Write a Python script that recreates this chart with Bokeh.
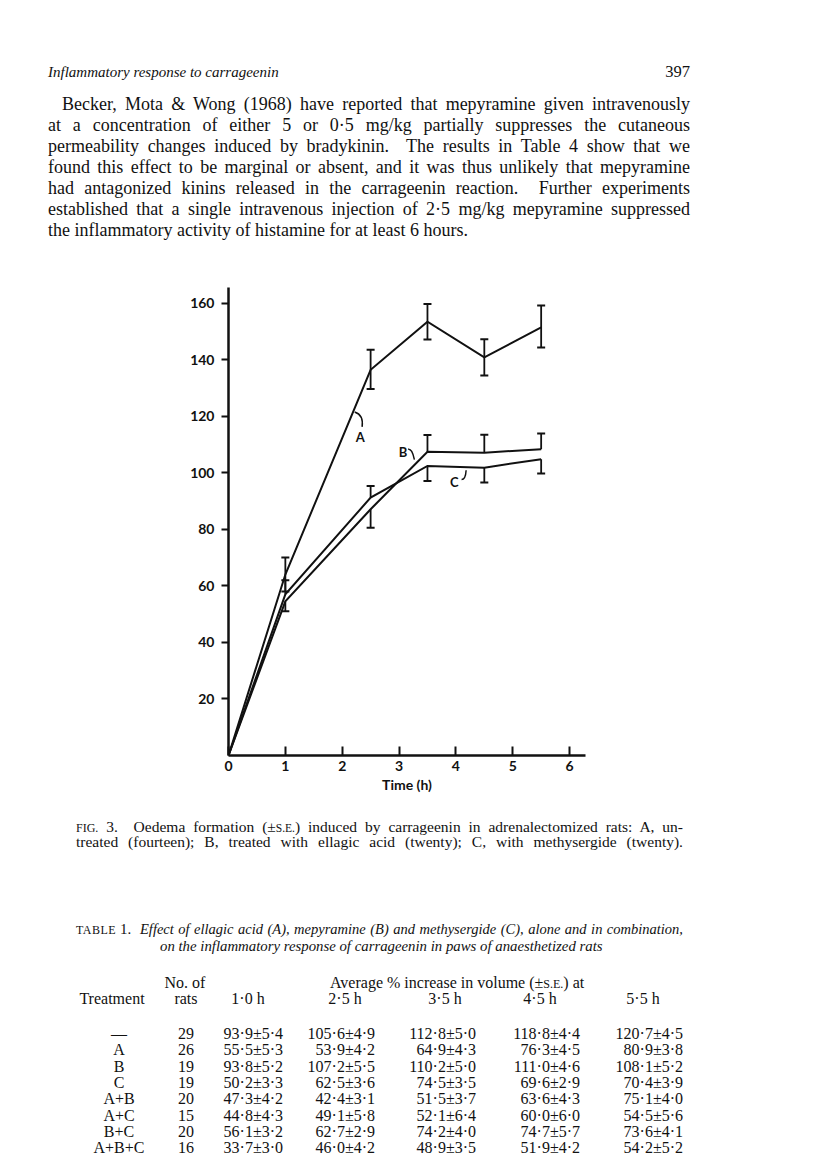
from bokeh.plotting import figure
from bokeh.models import Range1d, FixedTicker, Div, Label
from bokeh.layouts import column
from bokeh.embed import file_html
from bokeh.resources import INLINE
from bokeh.core.properties import value
import math

# ---------------- chart data ----------------
times = [0, 1, 2.5, 3.5, 4.5, 5.5]
a_vals = [0, 64.0, 136.4, 153.4, 140.8, 151.4]
a_lo = [0, 58.0, 129.6, 147.1, 134.4, 144.3]
a_hi = [0, 70.0, 143.5, 159.7, 147.2, 159.1]
b_vals = [0, 54.5, 87.1, 107.4, 107.1, 108.3]
b_lo = [0, 51.0, 80.5, 107.4, 107.1, 108.3]
b_hi = [0, 54.5, 87.1, 113.3, 113.4, 113.9]
c_vals = [0, 57.0, 91.2, 102.4, 101.8, 104.8]
c_lo = [0, 57.0, 91.2, 97.1, 96.5, 99.7]
c_hi = [0, 62.0, 95.3, 102.4, 101.8, 104.8]
x_ticks = [0, 1, 2, 3, 4, 5, 6]
y_ticks = [20, 40, 60, 80, 100, 120, 140, 160]
curve_names = ["A", "B", "C"]

# ---------------- table data ----------------
treatments = ["\u2014", "A", "B", "C", "A+B", "A+C", "B+C", "A+B+C"]
n_rats = [29, 26, 19, 19, 20, 15, 20, 16]
col_hours = ["1\u00b70 h", "2\u00b75 h", "3\u00b75 h", "4\u00b75 h", "5\u00b75 h"]
t_10 = ["93\u00b79\u00b15\u00b74", "55\u00b75\u00b15\u00b73", "93\u00b78\u00b15\u00b72", "50\u00b72\u00b13\u00b73",
        "47\u00b73\u00b14\u00b72", "44\u00b78\u00b14\u00b73", "56\u00b71\u00b13\u00b72", "33\u00b77\u00b13\u00b70"]
t_25 = ["105\u00b76\u00b14\u00b79", "53\u00b79\u00b14\u00b72", "107\u00b72\u00b15\u00b75", "62\u00b75\u00b13\u00b76",
        "42\u00b74\u00b13\u00b71", "49\u00b71\u00b15\u00b78", "62\u00b77\u00b12\u00b79", "46\u00b70\u00b14\u00b72"]
t_35 = ["112\u00b78\u00b15\u00b70", "64\u00b79\u00b14\u00b73", "110\u00b72\u00b15\u00b70", "74\u00b75\u00b13\u00b75",
        "51\u00b75\u00b13\u00b77", "52\u00b71\u00b16\u00b74", "74\u00b72\u00b14\u00b70", "48\u00b79\u00b13\u00b75"]
t_45 = ["118\u00b78\u00b14\u00b74", "76\u00b73\u00b14\u00b75", "111\u00b70\u00b14\u00b76", "69\u00b76\u00b12\u00b79",
        "63\u00b76\u00b14\u00b73", "60\u00b70\u00b16\u00b70", "74\u00b77\u00b15\u00b77", "51\u00b79\u00b14\u00b72"]
t_55 = ["120\u00b77\u00b14\u00b75", "80\u00b79\u00b13\u00b78", "108\u00b71\u00b15\u00b72", "70\u00b74\u00b13\u00b79",
        "75\u00b71\u00b14\u00b70", "54\u00b75\u00b15\u00b76", "73\u00b76\u00b14\u00b71", "54\u00b72\u00b15\u00b72"]

# ---------------- page text ----------------
running_head = "Inflammatory response to carrageenin"
page_no = "397"
para_lines = [
    "Becker, Mota &amp; Wong (1968) have reported that mepyramine given intravenously",
    "at a concentration of either 5 or 0\u00b75 mg/kg partially suppresses the cutaneous",
    "permeability changes induced by bradykinin.&nbsp; The results in Table 4 show that we",
    "found this effect to be marginal or absent, and it was thus unlikely that mepyramine",
    "had antagonized kinins released in the carrageenin reaction.&nbsp; Further experiments",
    "established that a single intravenous injection of 2\u00b75 mg/kg mepyramine suppressed",
    "the inflammatory activity of histamine for at least 6 hours.",
]
caption_lines = [
    "<span style='font-size:12px'>FIG.</span> 3.&nbsp; Oedema formation (\u00b1<span style='font-size:11.5px'>S.E.</span>) induced by carrageenin in adrenalectomized rats: A, un-",
    "treated (fourteen); B, treated with ellagic acid (twenty); C, with methysergide (twenty).",
]
table_title_1 = "Effect of ellagic acid (A), mepyramine (B) and methysergide (C), alone and in combination,"
table_title_2 = "on the inflammatory response of carrageenin in paws of anaesthetized rats"

SERIF = "'Liberation Serif', 'Times New Roman', serif"


def box(text, left, top, width, size, lh, align="left", justify=False, italic=False):
    st = (f"position:absolute;left:{left}px;top:{top}px;width:{width}px;height:{lh}px;"
          f"line-height:{lh}px;font-size:{size}px;text-align:{align};white-space:nowrap;")
    if justify:
        st += "text-align-last:justify;"
    if italic:
        st += "font-style:italic;"
    return f'<div style="{st}">{text}</div>'


# ----- top block -----
TOP_H = 270
top_items = []
top_items.append(box(running_head, 48, 63, 400, 15, 18, italic=True))
top_items.append(box(page_no, 590, 63, 100, 16.5, 18, align="right"))
for i, ln in enumerate(para_lines):
    tp = 93.5 + 21 * i
    if i == 0:
        top_items.append(box(ln, 62, tp, 628, 18, 21, align="justify", justify=True))
    elif i < len(para_lines) - 1:
        top_items.append(box(ln, 48, tp, 642, 18, 21, align="justify", justify=True))
    else:
        top_items.append(box(ln, 48, tp, 642, 18, 21))
top_html = (f'<div style="position:relative;width:800px;height:{TOP_H}px;font-family:{SERIF};color:#111;">'
            + "".join(top_items) + "</div>")
top_div = Div(text=top_html, width=800, height=TOP_H, margin=0)

# ----- chart -----
p = figure(width=800, height=530, x_range=Range1d(0, 6.28), y_range=Range1d(0, 165.5),
           output_backend="svg", toolbar_location=None,
           min_border_left=228, min_border_right=215, min_border_top=17, min_border_bottom=45,
           outline_line_color=None, background_fill_color="white", border_fill_color="white")
p.grid.visible = False

CF = "Lato"
for ax in (p.xaxis[0], p.yaxis[0]):
    ax.axis_line_width = 2.5
    ax.axis_line_color = "#111111"
    ax.major_tick_line_width = 2
    ax.major_tick_line_color = "#111111"
    ax.minor_tick_line_color = None
    ax.major_label_text_font = CF
    ax.major_label_text_font_style = "bold"
    ax.major_label_text_font_size = "14px"
    ax.major_label_text_color = "#111111"
    ax.axis_label_text_font = CF
    ax.axis_label_text_font_style = "bold"
    ax.axis_label_text_font_size = "14px"
    ax.axis_label_text_color = "#111111"

p.xaxis.ticker = FixedTicker(ticks=x_ticks)
p.xaxis.major_tick_in = 9
p.xaxis.major_tick_out = 0
p.xaxis.major_label_standoff = 5
p.xaxis.axis_label = "Time (h)"
p.xaxis.axis_label_standoff = 2

p.yaxis.ticker = FixedTicker(ticks=y_ticks)
p.yaxis.major_tick_in = 0
p.yaxis.major_tick_out = 7
p.yaxis.major_label_standoff = 7

# y-axis title placed as a rotated label (sits a little above the axis centre in the original)
p.add_layout(Label(x=-0.88, y=88, text="% Increase in paw volume", angle=math.pi / 2,
                   text_font=CF, text_font_style="bold", text_font_size="14px",
                   text_align="center", text_baseline="middle", text_color="#111111"))

series = [(a_vals, a_lo, a_hi), (b_vals, b_lo, b_hi), (c_vals, c_lo, c_hi)]
for vals, lo, hi in series:
    p.line(times, vals, line_width=2, line_color="#111111", line_join="miter")
    xs, y0s, y1s, cx, cy = [], [], [], [], []
    for t, v, l, h in zip(times, vals, lo, hi):
        if h - l <= 0:
            continue
        xs.append(t); y0s.append(l); y1s.append(h)
        if l < v:
            cx.append(t); cy.append(l)
        if h > v:
            cx.append(t); cy.append(h)
    p.segment(x0=xs, y0=y0s, x1=xs, y1=y1s, line_width=1.8, line_color="#111111")
    p.scatter(cx, cy, marker="dash", size=8, line_width=2, line_color="#111111")

# curve labels and their small leader strokes
lab_x = [2.32, 3.07, 3.97]
lab_y = [112.8, 107.3, 96.8]
p.text(lab_x, lab_y, text=curve_names, text_font=value(CF), text_font_style="bold",
       text_font_size="13px", text_align="center", text_baseline="middle", text_color="#111111")
p.quadratic(x0=[2.22, 3.16, 4.10], y0=[121.5, 108.3, 97.6],
            x1=[2.35, 3.27, 4.18], y1=[116.2, 104.6, 100.9],
            cx=[2.38, 3.23, 4.17], cy=[120.5, 108.6, 97.6],
            line_width=1.5, line_color="#111111")

# ----- bottom block (caption + table) -----
BOT_H = 360
bi = []
bi.append(box(caption_lines[0], 76, 18.5, 607, 15.5, 15, align="justify", justify=True))
bi.append(box(caption_lines[1], 76, 33.5, 607, 15.5, 15, align="justify", justify=True))
bi.append(box("<span style='font-size:12px;letter-spacing:0.5px'>TABLE</span> 1.", 76, 121, 80, 15, 16))
bi.append(box(table_title_1, 140, 121, 543, 14.5, 16, align="justify", justify=True, italic=True))
bi.append(box(table_title_2, 160, 138, 520, 14.8, 16, italic=True))
bi.append(box("No. of", 185 - 40, 175, 80, 16, 16, align="center"))
bi.append(box("Average % increase in volume (\u00b1<span style='font-size:12px'>S.E.</span>) at", 330, 175, 320, 16, 16))
bi.append(box("Treatment", 112 - 50, 191, 100, 16, 16, align="center"))
bi.append(box("rats", 186 - 30, 191, 60, 16, 16, align="center"))
for c, h in zip([248, 345, 445, 540, 643], col_hours):
    bi.append(box(h, c - 40, 191, 80, 16, 16, align="center"))
right_edges = [283, 375, 476, 580, 683]
cols = [t_10, t_25, t_35, t_45, t_55]
for r in range(len(treatments)):
    tp = 226 + 16.3 * r
    bi.append(box(treatments[r], 119 - 50, tp, 100, 16, 16, align="center"))
    bi.append(box(str(n_rats[r]), 186 - 25, tp, 50, 16, 16, align="center"))
    for re, col in zip(right_edges, cols):
        bi.append(box(col[r], re - 110, tp, 110, 16, 16, align="right"))
bot_html = (f'<div style="position:relative;width:800px;height:{BOT_H}px;font-family:{SERIF};color:#111;">'
            + "".join(bi) + "</div>")
bot_div = Div(text=bot_html, width=800, height=BOT_H, margin=0)

page = column(top_div, p, bot_div, spacing=0)
open("out.html", "w").write(file_html(page, INLINE))
